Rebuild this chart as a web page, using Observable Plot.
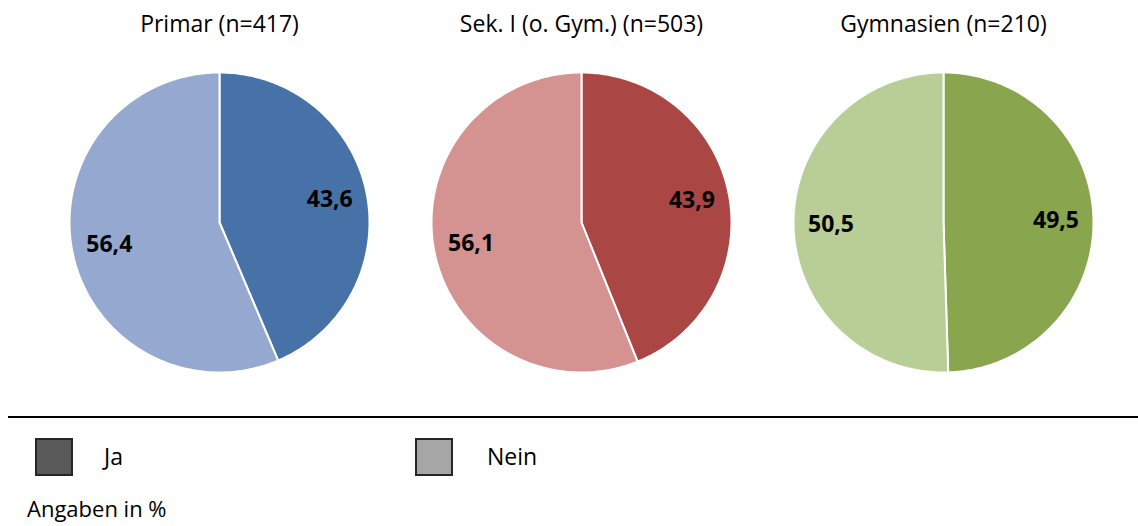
<!DOCTYPE html>
<html><head><meta charset="utf-8">
<script src="https://cdn.jsdelivr.net/npm/d3@7"></script>
<script src="https://cdn.jsdelivr.net/npm/@observablehq/plot@0.6"></script>
<style>
body{margin:0;background:#fff;font-family:"Open Sans",sans-serif;}
#wrap{position:relative;width:1138px;height:526px;overflow:hidden;}
#chart{position:absolute;left:0;top:0;}
.rule{position:absolute;left:8px;top:416px;width:1130px;height:0;border-top:2px solid #000;}
.sw{position:absolute;width:34px;height:34px;border:2px solid #262626;}
.lt{position:absolute;font-size:23px;line-height:28px;color:#000;}
</style></head>
<body><div id="wrap"><div id="chart"></div>
<div class="rule"></div>
<div class="sw" style="left:35px;top:438px;background:#595959"></div>
<div class="lt" style="left:104px;top:442px">Ja</div>
<div class="sw" style="left:415px;top:438px;background:#a6a6a6"></div>
<div class="lt" style="left:487px;top:442px">Nein</div>
<div class="lt" style="left:27px;top:495px;font-size:22px;line-height:26px">Angaben in %</div>
</div>
<script>
const groups = ["Primar", "Sek. I (o. Gym.)", "Gymnasien"];
const titles = ["Primar (n=417)", "Sek. I (o. Gym.) (n=503)", "Gymnasien (n=210)"];
const answers = ["Ja", "Nein"];
const jaValues = [43.6, 43.9, 49.5];
const neinValues = [56.4, 56.1, 50.5];
const jaColors = ["#4672a8", "#aa4644", "#89a54e"];
const neinColors = ["#95a9d0", "#d49391", "#b9ce97"];

const slices = [];
groups.forEach((g, i) => {
  const vals = [jaValues[i], neinValues[i]];
  const cols = [jaColors[i], neinColors[i]];
  const arcs = d3.pie().sort(null).value(d => d)(vals);
  arcs.forEach((a, j) => {
    slices.push({group: g, answer: answers[j], value: vals[j], color: cols[j],
      a0: a.startAngle, a1: a.endAngle});
  });
});

const pts = [];
slices.forEach(s => {
  const key = s.group + "|" + s.answer;
  pts.push({...s, key, px: 0, py: 0});
  const n = 180;
  for (let k = 0; k <= n; k++) {
    const a = s.a0 + (s.a1 - s.a0) * k / n;
    pts.push({...s, key, px: Math.sin(a), py: Math.cos(a)});
  }
  pts.push({...s, key, px: 0, py: 0});
});

const labels = slices.map(s => {
  const m = (s.a0 + s.a1) / 2, r = 0.75;
  return {...s, lx: r * Math.sin(m), ly: r * Math.cos(m), text: String(s.value).replace(".", ",")};
});

const titleData = groups.map((g, i) => ({group: g, title: titles[i]}));

const plot = Plot.plot({
  width: 1138, height: 410,
  marginTop: 72, marginBottom: 38, marginLeft: 68, marginRight: 45,
  style: {fontFamily: "'Open Sans', sans-serif"},
  fx: {domain: groups, paddingInner: 62.5/362.5, paddingOuter: 0, axis: null},
  x: {domain: [-1, 1], axis: null},
  y: {domain: [-1, 1], axis: null},
  color: {type: "identity"},
  marks: [
    Plot.line(pts, {fx: "group", x: "px", y: "py", z: "key", fill: "color", stroke: "white", strokeWidth: 2, curve: "linear"}),
    Plot.text(labels, {fx: "group", x: "lx", y: "ly", text: "text", fontSize: 23, fontWeight: "bold", fill: "black"}),
    Plot.text(titleData, {fx: "group", text: "title", frameAnchor: "top", lineAnchor: "middle", dy: -48, fontSize: 23, fill: "black"})
  ]
});
document.getElementById("chart").appendChild(plot);
</script></body></html>
